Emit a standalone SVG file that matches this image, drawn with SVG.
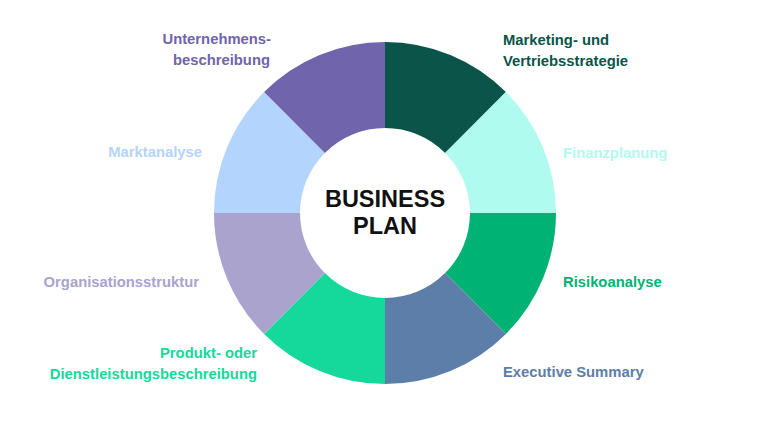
<svg xmlns="http://www.w3.org/2000/svg" width="770" height="427" viewBox="0 0 770 427">
<style>
text{font-family:"Liberation Sans",Arial,sans-serif;font-weight:bold;}
.lbl{font-size:14.8px;}
.end{text-anchor:end;}
.center{font-size:23.5px;fill:#111;text-anchor:middle;}
</style>
<rect width="770" height="427" fill="#ffffff"/>
<g id="marketing">
<path d="M385,42 A171,171 0 0 1 505.92,92.08 L445.10,152.90 A85,85 0 0 0 385,128 Z" fill="#0a5449"/>
<text class="lbl" x="503" y="45" fill="#0a5449">Marketing- und</text>
<text class="lbl" x="503" y="66" fill="#0a5449">Vertriebsstrategie</text>
</g>
<g id="finanzplanung">
<path d="M505.92,92.08 A171,171 0 0 1 556,213 L470,213 A85,85 0 0 0 445.10,152.90 Z" fill="#b0fbef"/>
<text class="lbl" x="563" y="158" fill="#b0fbef">Finanzplanung</text>
</g>
<g id="risikoanalyse">
<path d="M556,213 A171,171 0 0 1 505.92,333.92 L445.10,273.10 A85,85 0 0 0 470,213 Z" fill="#00b273"/>
<text class="lbl" x="563" y="287" fill="#00b273">Risikoanalyse</text>
</g>
<g id="executive">
<path d="M505.92,333.92 A171,171 0 0 1 385,384 L385,298 A85,85 0 0 0 445.10,273.10 Z" fill="#5d7ea8"/>
<text class="lbl" x="503" y="377" fill="#5d7ea8">Executive Summary</text>
</g>
<g id="produkt">
<path d="M385,384 A171,171 0 0 1 264.08,333.92 L324.90,273.10 A85,85 0 0 0 385,298 Z" fill="#14d99b"/>
<text class="lbl end" x="257" y="358" fill="#14d99b">Produkt- oder</text>
<text class="lbl end" x="257" y="379" fill="#14d99b">Dienstleistungsbeschreibung</text>
</g>
<g id="organisation">
<path d="M264.08,333.92 A171,171 0 0 1 214,213 L300,213 A85,85 0 0 0 324.90,273.10 Z" fill="#a9a3ce"/>
<text class="lbl end" x="199" y="287" fill="#a9a3ce">Organisationsstruktur</text>
</g>
<g id="marktanalyse">
<path d="M214,213 A171,171 0 0 1 264.08,92.08 L324.90,152.90 A85,85 0 0 0 300,213 Z" fill="#b3d4fd"/>
<text class="lbl end" x="202" y="157" fill="#b3d4fd">Marktanalyse</text>
</g>
<g id="unternehmen">
<path d="M264.08,92.08 A171,171 0 0 1 385,42 L385,128 A85,85 0 0 0 324.90,152.90 Z" fill="#7064ac"/>
<text class="lbl end" x="271" y="44" fill="#7064ac">Unternehmens-</text>
<text class="lbl end" x="270" y="65" fill="#7064ac">beschreibung</text>
</g>
<g id="center">
<text class="center" x="385" y="207">BUSINESS</text>
<text class="center" x="385" y="234">PLAN</text>
</g>
<g id="connectors"></g>
</svg>
